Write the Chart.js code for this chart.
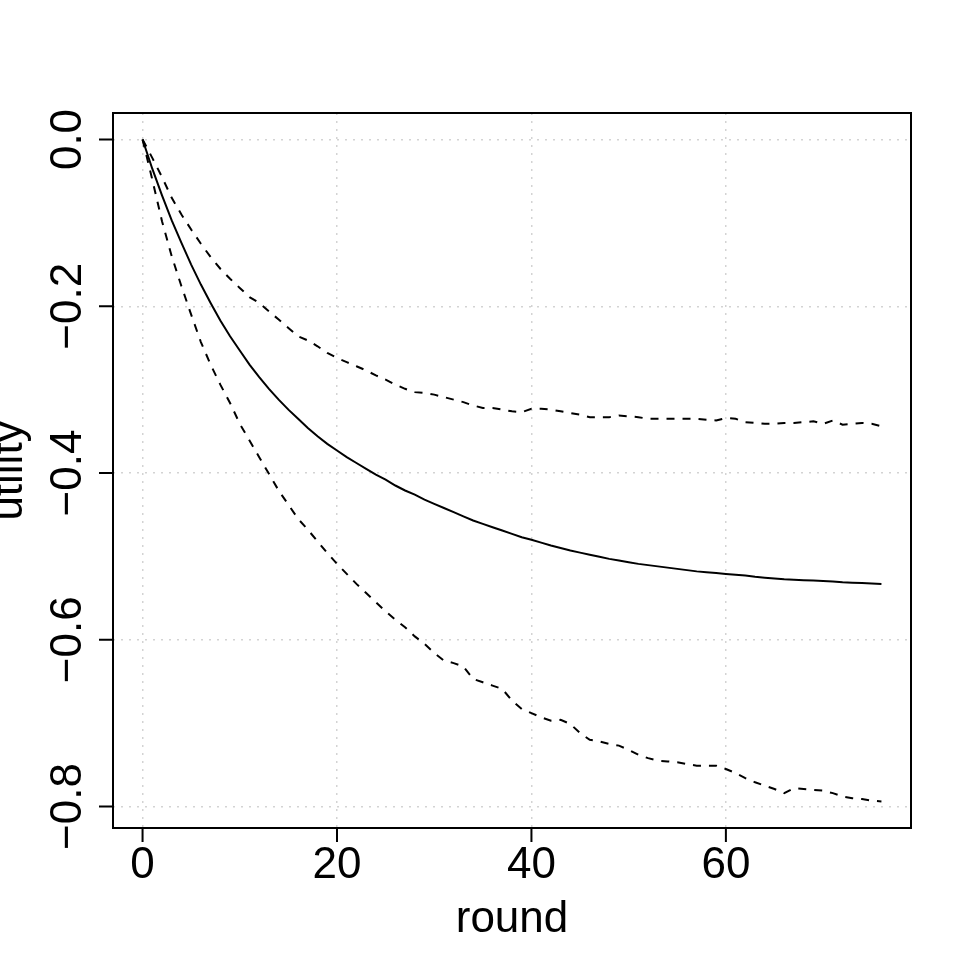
<!DOCTYPE html>
<html>
<head>
<meta charset="utf-8">
<title>utility by round</title>
<script src="https://cdn.jsdelivr.net/npm/chart.js@4.4.0/dist/chart.umd.min.js"></script>
<style>
  html, body { margin: 0; padding: 0; background: #fff; }
  #chart { display: block; }
</style>
</head>
<body>
<canvas id="chart" width="969" height="969"></canvas>
<script>
const rounds = [
  0, 1, 2, 3, 4, 5, 6, 7, 8, 9, 10, 11, 12, 13, 14, 15, 16, 17, 18, 19,
  20, 21, 22, 23, 24, 25, 26, 27, 28, 29, 30, 31, 32, 33, 34, 35, 36, 37, 38, 39,
  40, 41, 42, 43, 44, 45, 46, 47, 48, 49, 50, 51, 52, 53, 54, 55, 56, 57, 58, 59,
  60, 61, 62, 63, 64, 65, 66, 67, 68, 69, 70, 71, 72, 73, 74, 75, 76
];

// mean utility (solid)
const meanUtility = [
  0, -0.035, -0.067, -0.097, -0.124, -0.150, -0.174, -0.196, -0.217, -0.236,
  -0.253, -0.270, -0.285, -0.299, -0.312, -0.324, -0.335, -0.346, -0.356, -0.365,
  -0.373, -0.381, -0.388, -0.395, -0.402, -0.408, -0.415, -0.421, -0.426, -0.432,
  -0.437, -0.442, -0.447, -0.452, -0.457, -0.461, -0.465, -0.469, -0.473, -0.477,
  -0.480, -0.4835, -0.487, -0.490, -0.493, -0.4955, -0.498, -0.5005, -0.503, -0.505,
  -0.507, -0.509, -0.5105, -0.512, -0.5135, -0.515, -0.5165, -0.518, -0.519, -0.520,
  -0.521, -0.522, -0.523, -0.5245, -0.5255, -0.5265, -0.5275, -0.528, -0.5285, -0.529,
  -0.5295, -0.530, -0.531, -0.5315, -0.532, -0.5325, -0.533
];

// upper band (dashed)
const upperUtility = [
  0, -0.022, -0.045, -0.070, -0.090, -0.108, -0.125, -0.141, -0.155, -0.167,
  -0.178, -0.189, -0.196, -0.206, -0.216, -0.226, -0.236, -0.241, -0.248, -0.256,
  -0.262, -0.267, -0.272, -0.277, -0.283, -0.288, -0.294, -0.299, -0.303, -0.304,
  -0.306, -0.309, -0.312, -0.315, -0.319, -0.322, -0.322, -0.324, -0.326, -0.327,
  -0.323, -0.323, -0.324, -0.326, -0.328, -0.330, -0.333, -0.333, -0.333, -0.331,
  -0.332, -0.333, -0.335, -0.335, -0.335, -0.335, -0.335, -0.335, -0.336, -0.337,
  -0.334, -0.335, -0.339, -0.340, -0.341, -0.341, -0.340, -0.340, -0.339, -0.338,
  -0.341, -0.337, -0.342, -0.341, -0.340, -0.341, -0.344
];

// lower band (dashed)
const lowerUtility = [
  0, -0.048, -0.098, -0.140, -0.176, -0.210, -0.243, -0.270, -0.294, -0.316,
  -0.341, -0.361, -0.381, -0.401, -0.421, -0.438, -0.455, -0.468, -0.482, -0.496,
  -0.509, -0.521, -0.533, -0.544, -0.555, -0.566, -0.576, -0.585, -0.596, -0.605,
  -0.616, -0.625, -0.628, -0.632, -0.647, -0.651, -0.655, -0.659, -0.673, -0.683,
  -0.688, -0.693, -0.697, -0.696, -0.701, -0.712, -0.720, -0.722, -0.725, -0.727,
  -0.732, -0.738, -0.742, -0.745, -0.746, -0.747, -0.749, -0.751, -0.751, -0.751,
  -0.755, -0.760, -0.766, -0.771, -0.775, -0.779, -0.784, -0.778, -0.779, -0.780,
  -0.781, -0.784, -0.788, -0.790, -0.791, -0.793, -0.794
];

const xTicks = [0, 20, 40, 60];
const xTickLabels = ['0', '20', '40', '60'];
const yTicks = [0, -0.2, -0.4, -0.6, -0.8];
const yTickLabels = ['0.0', '\u22120.2', '\u22120.4', '\u22120.6', '\u22120.8'];

const FONT = '"Liberation Sans", Arial, Helvetica, sans-serif';

function toPoints(ys) {
  return rounds.map((r, i) => ({ x: r, y: ys[i] }));
}

// box, tick marks, labels and axis titles in the R base-graphics style
const rFrame = {
  id: 'rFrame',
  afterDraw(chart) {
    const { ctx, chartArea: a } = chart;
    const xs = chart.scales.x, ys = chart.scales.y;
    ctx.save();
    ctx.setLineDash([]);
    ctx.strokeStyle = '#000';
    ctx.lineWidth = 2;
    ctx.strokeRect(a.left, a.top, a.right - a.left, a.bottom - a.top);

    ctx.beginPath();
    xTicks.forEach(v => {
      const px = xs.getPixelForValue(v);
      ctx.moveTo(px, a.bottom);
      ctx.lineTo(px, a.bottom + 14);
    });
    yTicks.forEach(v => {
      const py = ys.getPixelForValue(v);
      ctx.moveTo(a.left, py);
      ctx.lineTo(a.left - 14, py);
    });
    ctx.stroke();

    ctx.fillStyle = '#000';
    ctx.font = '44px ' + FONT;
    ctx.textAlign = 'center';
    ctx.textBaseline = 'alphabetic';
    xTicks.forEach((v, i) => {
      ctx.fillText(xTickLabels[i], xs.getPixelForValue(v), a.bottom + 50);
    });
    yTicks.forEach((v, i) => {
      ctx.save();
      ctx.translate(a.left - 32, ys.getPixelForValue(v));
      ctx.rotate(-Math.PI / 2);
      ctx.fillText(yTickLabels[i], 0, 0);
      ctx.restore();
    });

    ctx.fillText('round', (a.left + a.right) / 2, a.bottom + 104);
    ctx.save();
    ctx.translate(a.left - 91, (a.top + a.bottom) / 2);
    ctx.rotate(-Math.PI / 2);
    ctx.fillText('utility', 0, 0);
    ctx.restore();
    ctx.restore();
  }
};

function lineSet(label, ys, dash) {
  return {
    label: label,
    data: toPoints(ys),
    borderColor: '#000',
    borderWidth: 2,
    borderDash: dash,
    pointRadius: 0,
    fill: false,
    tension: 0
  };
}

const ctx = document.getElementById('chart').getContext('2d');
const chart = new Chart(ctx, {
  type: 'line',
  data: {
    datasets: [
      lineSet('mean', meanUtility, []),
      lineSet('upper', upperUtility, [8, 8]),
      lineSet('lower', lowerUtility, [8, 8])
    ]
  },
  options: {
    responsive: false,
    animation: false,
    devicePixelRatio: 1,
    layout: { padding: { left: 113, top: 113, right: 58, bottom: 141 } },
    plugins: { legend: { display: false }, tooltip: { enabled: false } },
    scales: {
      x: {
        type: 'linear',
        min: -3.04,
        max: 79.04,
        afterBuildTicks: s => { s.ticks = xTicks.map(v => ({ value: v })); },
        ticks: { display: false },
        grid: { color: '#d3d3d3', lineWidth: 1.5, drawTicks: false },
        border: { display: false, dash: [2, 6] }
      },
      y: {
        type: 'linear',
        min: -0.8258,
        max: 0.0318,
        afterBuildTicks: s => { s.ticks = yTicks.map(v => ({ value: v })); },
        ticks: { display: false },
        grid: { color: '#d3d3d3', lineWidth: 1.5, drawTicks: false },
        border: { display: false, dash: [2, 6] }
      }
    }
  },
  plugins: [rFrame]
});
</script>
</body>
</html>
